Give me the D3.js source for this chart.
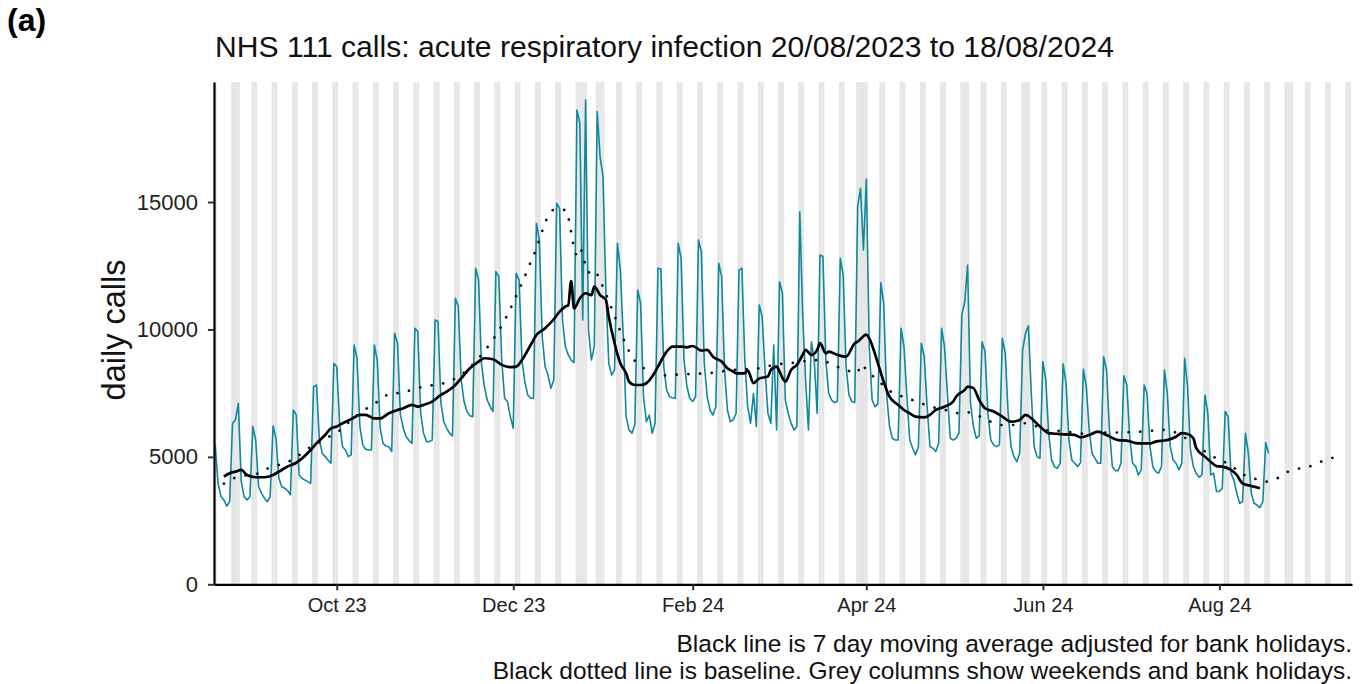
<!DOCTYPE html>
<html>
<head>
<meta charset="utf-8">
<script src="https://cdn.jsdelivr.net/npm/d3@7"></script>
<style>
  body { margin: 0; background: #fff; }
  svg { display: block; font-family: "Liberation Sans", Arial, sans-serif; }
</style>
</head>
<body>
<svg id="chart" width="1362" height="684"></svg>
<script>
// daily NHS 111 calls, one row per week (Sun .. Sat), first day 20/08/2023
const dailyCalls = [
  [5470, 3960, 3440, 3310, 3070, 3240, 6320],
  [6450, 7100, 4030, 3440, 3310, 3440, 6190],
  [5660, 3830, 3570, 3380, 3240, 3440, 6210],
  [5730, 4160, 3830, 3770, 3680, 3510, 6840],
  [6650, 4290, 4160, 4090, 4030, 3960, 7760],
  [7820, 5660, 5140, 5010, 4880, 4750, 8670],
  [8540, 6320, 5400, 5270, 5010, 5080, 9390],
  [8870, 6190, 5470, 5300, 5270, 5270, 9390],
  [8800, 6120, 5530, 5430, 5400, 5210, 9850],
  [9460, 6650, 6120, 5790, 5640, 5530, 10050],
  [9920, 6710, 5930, 5600, 5600, 5660, 10370],
  [10310, 7100, 6380, 6120, 5930, 5820, 11220],
  [10900, 8020, 7170, 6780, 6610, 6580, 12400],
  [11940, 8670, 7760, 7230, 6970, 6780, 12270],
  [12070, 8800, 7300, 7170, 6580, 6120, 12200],
  [11940, 8800, 7950, 7430, 7300, 7300, 14170],
  [13510, 9720, 8540, 8210, 7690, 8020, 14950],
  [14760, 10370, 9330, 9000, 8800, 8700, 18610],
  [18090, 10370, 19000, 9980, 8800, 9330, 18550],
  [16780, 16000, 11500, 8670, 8210, 8410, 13380],
  [12330, 9720, 6580, 6060, 5930, 6250, 11550],
  [11020, 7360, 6380, 6640, 5930, 6320, 12400],
  [12370, 8540, 7620, 7360, 7320, 7300, 13380],
  [12790, 8800, 7760, 7300, 7170, 7360, 13510],
  [13050, 8670, 7360, 6840, 6640, 6970, 12600],
  [12070, 8410, 6840, 6380, 6450, 6710, 12330],
  [12400, 8800, 6970, 6320, 7490, 6190, 10960],
  [10500, 8410, 6710, 6320, 9390, 6060, 11870],
  [11420, 7230, 6710, 6320, 6060, 6190, 14620],
  [10600, 8000, 6060, 9520, 8800, 6710, 12920],
  [12860, 8800, 7490, 7230, 7130, 7170, 12790],
  [12140, 8540, 7430, 7170, 7130, 14820, 15540],
  [13120, 15900, 9330, 7230, 6970, 7080, 11840],
  [11020, 7490, 6190, 5730, 5660, 5660, 10050],
  [9330, 7360, 5660, 5340, 5080, 5400, 9460],
  [8930, 6970, 5400, 5340, 5210, 5530, 10050],
  [9330, 7490, 5730, 5660, 5730, 5930, 10570],
  [11090, 12530, 7100, 6190, 5730, 5820, 9520],
  [9130, 6710, 5660, 5470, 5400, 5470, 9650],
  [9060, 6710, 5400, 5010, 4810, 5140, 9200],
  [9850, 10140, 7490, 5400, 5010, 4940, 8740],
  [8020, 5930, 4880, 4620, 4550, 4750, 8650],
  [7890, 5660, 4880, 4750, 4620, 4770, 8440],
  [7760, 6060, 5140, 4940, 4750, 4750, 8930],
  [8410, 6060, 4620, 4460, 4460, 4750, 8180],
  [7820, 5790, 4750, 4640, 4290, 4490, 7820],
  [7490, 5400, 4620, 4420, 4360, 4620, 8410],
  [7490, 5400, 4880, 4750, 4490, 4750, 8870],
  [7760, 5270, 4620, 4360, 4200, 4290, 7430],
  [6710, 4290, 4360, 3640, 3640, 3770, 6780],
  [6580, 4360, 4090, 3570, 3180, 3240, 5930],
  [5140, 3570, 3180, 3110, 3010, 3240, 5560],
  [5140],
].flat();

// 7 day moving average (adjusted), [day index, calls]
const movingAverage = [
  [3, 4230], [5, 4360], [7, 4420], [9, 4490], [11, 4290], [14, 4200], [17, 4200],
  [20, 4290], [22, 4420], [25, 4620], [28, 4770], [30, 4940], [33, 5270], [35, 5530],
  [38, 5860], [40, 6120], [42, 6190], [44, 6320], [47, 6480], [50, 6650], [52, 6650],
  [55, 6510], [57, 6510], [60, 6710], [63, 6840], [65, 6910], [68, 7040], [70, 6970],
  [72, 7040], [75, 7170], [78, 7430], [80, 7560], [83, 7820], [85, 8080], [88, 8480],
  [91, 8740], [93, 8870], [96, 8830], [99, 8610], [102, 8520], [104, 8540], [106, 8800],
  [109, 9390], [111, 9780], [114, 10050], [117, 10400], [119, 10700], [121, 10900],
  [122, 10950], [123, 11900], [124, 10830], [126, 11220], [128, 11420], [130, 11350],
  [131, 11680], [133, 11350], [135, 11160], [136, 10500], [138, 9460], [140, 8670],
  [142, 8280], [143, 7950], [145, 7820], [147, 7820], [149, 7890], [151, 8150],
  [153, 8540], [156, 9130], [158, 9330], [161, 9330], [163, 9300], [165, 9350],
  [168, 9170], [170, 9200], [172, 8930], [175, 8740], [177, 8480], [179, 8350],
  [180, 8280], [183, 8280], [184, 8400], [186, 7890], [188, 8080], [191, 8150],
  [192, 8410], [194, 8540], [195, 8350], [197, 7950], [199, 8410], [201, 8610],
  [203, 9000], [204, 9200], [206, 9000], [208, 9200], [209, 9460], [211, 9060],
  [212, 9130], [215, 9000], [218, 8930], [221, 9460], [222, 9520], [225, 9800],
  [226, 9650], [229, 8670], [231, 7950], [233, 7360], [236, 7040], [238, 6840],
  [240, 6710], [242, 6580], [245, 6550], [247, 6650], [249, 6840], [252, 6970],
  [255, 7170], [256, 7360], [259, 7630], [260, 7760], [262, 7700], [264, 7230],
  [266, 6910], [269, 6780], [272, 6580], [275, 6380], [278, 6450], [280, 6650],
  [281, 6600], [285, 6190], [288, 5930], [291, 5900], [297, 5860], [299, 5770],
  [302, 5860], [305, 5990], [308, 5860], [312, 5660], [315, 5640], [319, 5530],
  [323, 5530], [325, 5600], [329, 5660], [332, 5790], [334, 5930], [336, 5900],
  [338, 5730], [339, 5340], [342, 5010], [344, 4810], [346, 4640], [348, 4620],
  [351, 4490], [353, 4290], [355, 3960], [358, 3860], [359, 3830], [361, 3770],
];

// baseline, [day index, calls]
const baseline = [
  [3, 3950], [7, 4190], [15, 4360], [19, 4590], [24, 4750], [28, 4980], [31, 5250],
  [35, 5510], [39, 5770], [43, 6030], [46, 6340], [53, 6950], [57, 7230], [60, 7460],
  [65, 7530], [69, 7670], [73, 7780], [78, 7860], [82, 8020], [94, 9290], [99, 10150],
  [105, 11560], [110, 12900], [117, 14690], [121, 14690], [125, 12920], [126, 13180],
  [129, 12240], [131, 12330], [133, 11910], [138, 10530], [141, 9650], [145, 8770],
  [149, 8420], [153, 8190], [161, 8240], [170, 8280], [179, 8410], [188, 8480],
  [193, 8610], [201, 8710], [205, 8780], [209, 8800], [214, 8580], [218, 8410],
  [222, 8300], [223, 8630], [226, 8280], [229, 8020], [232, 7670], [236, 7430],
  [240, 7270], [244, 7100], [248, 6950], [253, 6820], [257, 6710], [260, 6750],
  [264, 6600], [268, 6380], [272, 6250], [276, 6250], [280, 6320], [284, 6190],
  [288, 6030], [292, 6020], [297, 5950], [301, 5900], [305, 5950], [314, 5960],
  [323, 6020], [328, 6060], [332, 5950], [336, 5690], [343, 5140], [347, 4880],
  [351, 4680], [354, 4380], [358, 4200], [363, 4030], [367, 4160], [370, 4380],
  [374, 4530], [378, 4620], [382, 4810], [387, 4990],
];

const bankHolidays = ['2023-08-28', '2023-12-25', '2023-12-26', '2024-01-01',
  '2024-03-29', '2024-04-01', '2024-05-06', '2024-05-27', '2024-08-26'];
const xTickDates = ['2023-10-01', '2023-12-01', '2024-02-01', '2024-04-01', '2024-06-01', '2024-08-01'];
const yTickValues = [0, 5000, 10000, 15000];

const startMs = Date.UTC(2023, 7, 20);
const dayMs = 864e5;
const toDate = (i) => new Date(startMs + i * dayMs);

const svg = d3.select('#chart');

const x = d3.scaleUtc()
  .domain([toDate(-0.41), toDate(392.82)])
  .range([214, 1352]);

const y = d3.scaleLinear()
  .domain([0, 19710])
  .range([584.3, 82]);

// grey columns: weekends and bank holidays
const greyDays = d3.range(0, 393).filter((i) => {
  const d = toDate(i);
  const dow = d.getUTCDay();
  return dow === 0 || dow === 6 || bankHolidays.includes(d3.utcFormat('%Y-%m-%d')(d));
});

svg.append('g')
  .selectAll('rect')
  .data(greyDays)
  .join('rect')
  .attr('x', (i) => x(toDate(i - 0.5)))
  .attr('width', (i) => x(toDate(i + 0.5)) - x(toDate(i - 0.5)))
  .attr('y', y.range()[1])
  .attr('height', y.range()[0] - y.range()[1])
  .attr('fill', '#e6e6e6');

const dailyLine = d3.line()
  .x((d, i) => x(toDate(i)))
  .y((d) => y(d));

svg.append('path')
  .datum(dailyCalls)
  .attr('d', dailyLine)
  .attr('fill', 'none')
  .attr('stroke', '#0f879c')
  .attr('stroke-width', 1.6)
  .attr('stroke-linejoin', 'round');

const pairLine = d3.line()
  .x((d) => x(toDate(d[0])))
  .y((d) => y(d[1]))
  .curve(d3.curveMonotoneX);

svg.append('path')
  .datum(movingAverage)
  .attr('d', pairLine)
  .attr('fill', 'none')
  .attr('stroke', '#000')
  .attr('stroke-width', 2.7)
  .attr('stroke-linejoin', 'round');

svg.append('path')
  .datum(baseline)
  .attr('d', pairLine)
  .attr('fill', 'none')
  .attr('stroke', '#111')
  .attr('stroke-width', 2.7)
  .attr('stroke-linecap', 'round')
  .attr('stroke-dasharray', '0.1 11.6');

// axes
const xAxis = d3.axisBottom(x)
  .tickValues(xTickDates.map((s) => new Date(s + 'T00:00:00Z')))
  .tickFormat(d3.utcFormat('%b %y'))
  .tickSize(6)
  .tickSizeOuter(0)
  .tickPadding(8);

const yAxis = d3.axisLeft(y)
  .tickValues(yTickValues)
  .tickFormat(d3.format('d'))
  .tickSize(6)
  .tickSizeOuter(0)
  .tickPadding(10);

const gx = svg.append('g')
  .attr('transform', `translate(0,${y.range()[0]})`)
  .call(xAxis);

const gy = svg.append('g')
  .attr('transform', `translate(${x.range()[0]},0)`)
  .call(yAxis);

[gx, gy].forEach((g) => {
  g.select('.domain').attr('stroke', '#000').attr('stroke-width', 2.2);
  g.selectAll('.tick line').attr('stroke', '#333').attr('stroke-width', 2);
  g.selectAll('.tick text').attr('fill', '#222').attr('font-family', '"Liberation Sans", Arial, sans-serif');
});
gx.selectAll('.tick text').attr('font-size', 20);
gy.selectAll('.tick text').attr('font-size', 22);

// titles and captions
svg.append('text')
  .attr('x', 7)
  .attr('y', 31)
  .attr('font-size', 32)
  .attr('font-weight', 'bold')
  .text('(a)');

svg.append('text')
  .attr('x', 215)
  .attr('y', 57)
  .attr('font-size', 30.1)
  .attr('fill', '#111')
  .text('NHS 111 calls: acute respiratory infection 20/08/2023 to 18/08/2024');

svg.append('text')
  .attr('transform', 'translate(125,330) rotate(-90)')
  .attr('text-anchor', 'middle')
  .attr('font-size', 32.5)
  .attr('fill', '#111')
  .text('daily calls');

const captions = [
  'Black line is 7 day moving average adjusted for bank holidays.',
  'Black dotted line is baseline. Grey columns show weekends and bank holidays.',
];

svg.append('g')
  .selectAll('text')
  .data(captions)
  .join('text')
  .attr('x', 1352)
  .attr('y', (d, i) => 652 + i * 27)
  .attr('text-anchor', 'end')
  .attr('font-size', 24.5)
  .attr('fill', '#111')
  .text((d) => d);
</script>
</body>
</html>
